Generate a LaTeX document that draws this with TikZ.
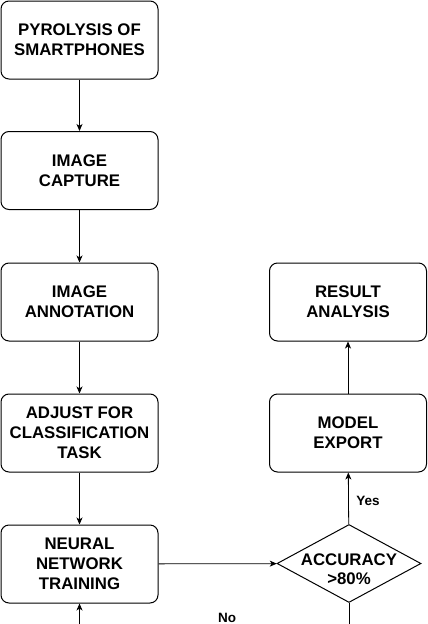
\documentclass[tikz,border=0pt]{standalone}
\usepackage{fontspec}
\setmainfont{Liberation Sans}
\usetikzlibrary{shapes.geometric,arrows.meta}
\begin{document}
\begin{tikzpicture}[x=1pt,y=-1pt,
 box/.style={draw, rounded corners=8pt, minimum width=157pt, minimum height=78pt, align=center, font=\fontsize{16.8}{20}\selectfont\bfseries, inner sep=0pt, line width=1pt},
 dec/.style={draw, diamond, aspect=1.85, minimum width=144pt, minimum height=78pt, inner sep=0pt, line width=1pt},
 dtext/.style={align=center, inner sep=0pt, font=\fontsize{16.8}{19}\selectfont\bfseries},
 arr/.style={-{Stealth[length=7pt,width=6pt,inset=2pt]}, line width=0.8pt},
 lab/.style={font=\fontsize{13.5}{15}\selectfont\bfseries}]
\useasboundingbox (0,0) rectangle (428,624);
\clip (0,0) rectangle (428,624);
\node[box] (p) at (79.5,40) {PYROLYSIS OF\\SMARTPHONES};
\node[box] (c) at (79.5,170.5) {IMAGE\\CAPTURE};
\node[box] (a) at (79.5,302) {IMAGE\\ANNOTATION};
\node[box] (j) at (79.5,433) {ADJUST FOR\\CLASSIFICATION\\TASK};
\node[box] (t) at (79.5,564) {NEURAL\\NETWORK\\TRAINING};
\node[box] (r) at (348,302) {RESULT\\ANALYSIS};
\node[box] (m) at (348,433) {MODEL\\EXPORT};
\node[dec] (d) at (349,563.5) {};
\node[dtext] (dt) at (349,569) {ACCURACY\\>80\%};
\draw[arr] (p) -- (c);
\draw[arr] (c) -- (a);
\draw[arr] (a) -- (j);
\draw[arr] (j) -- (t);
\draw[arr] (t) -- (d);
\draw[arr] (d) -- (m) node[lab, pos=0.45, right=4pt] (yes) {Yes};
\draw[arr] (m) -- (r);
\coordinate (lr) at (349,650);
\coordinate (ll) at (79.5,650);
\draw[arr] (d.south) -- (lr) -- (ll) -- (t.south);
\node[lab] (no) at (227,618) {No};
\end{tikzpicture}
\end{document}
